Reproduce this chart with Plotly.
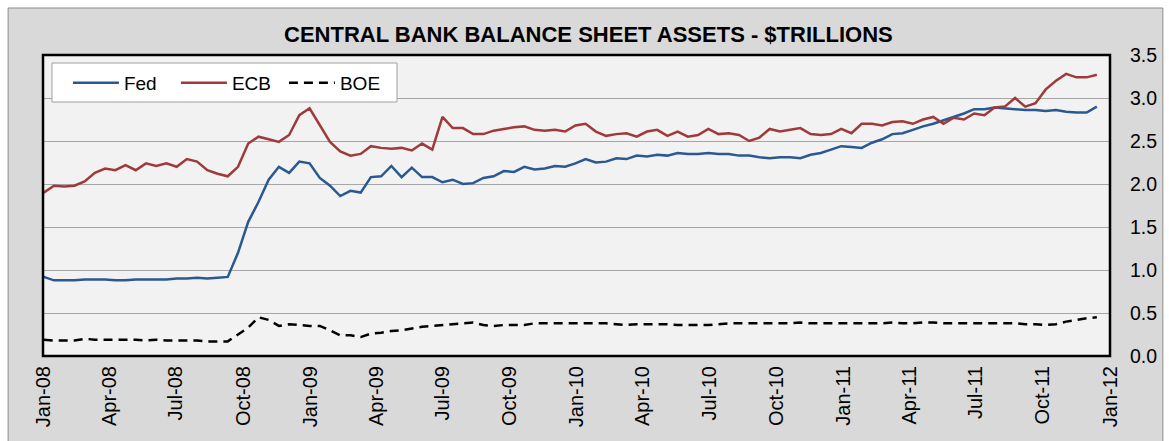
import pandas as pd
import plotly.graph_objects as go

# biweekly observation dates (Jan 2008 - Dec 2011)
dates = pd.date_range("2008-01-02", periods=104, freq="14D")

fed = [
    0.92, 0.88, 0.88, 0.88, 0.89, 0.89, 0.89, 0.88, 0.88, 0.89,
    0.89, 0.89, 0.89, 0.90, 0.90, 0.91, 0.90, 0.91, 0.92, 1.20,
    1.56, 1.79, 2.05, 2.20, 2.13, 2.26, 2.24, 2.07, 1.98, 1.86,
    1.92, 1.90, 2.08, 2.09, 2.21, 2.08, 2.19, 2.08, 2.08, 2.02,
    2.05, 2.00, 2.01, 2.07, 2.09, 2.15, 2.14, 2.20, 2.17, 2.18,
    2.21, 2.20, 2.24, 2.29, 2.25, 2.26, 2.30, 2.29, 2.33, 2.32,
    2.34, 2.33, 2.36, 2.35, 2.35, 2.36, 2.35, 2.35, 2.33, 2.33,
    2.31, 2.30, 2.31, 2.31, 2.30, 2.34, 2.36, 2.40, 2.44, 2.43,
    2.42, 2.48, 2.52, 2.58, 2.59, 2.63, 2.67, 2.70, 2.74, 2.78,
    2.82, 2.87, 2.87, 2.89, 2.88, 2.87, 2.86, 2.86, 2.85, 2.86,
    2.84, 2.83, 2.83, 2.90,
]

ecb = [
    1.90, 1.98, 1.97, 1.98, 2.03, 2.13, 2.18, 2.16, 2.22, 2.16,
    2.24, 2.21, 2.24, 2.20, 2.29, 2.26, 2.16, 2.12, 2.09, 2.20,
    2.47, 2.55, 2.52, 2.49, 2.57, 2.80, 2.88, 2.69, 2.49, 2.38,
    2.33, 2.35, 2.44, 2.42, 2.41, 2.42, 2.39, 2.47, 2.40, 2.78,
    2.65, 2.65, 2.58, 2.58, 2.62, 2.64, 2.66, 2.67, 2.63, 2.62,
    2.63, 2.61, 2.68, 2.70, 2.61, 2.56, 2.58, 2.59, 2.55, 2.61,
    2.63, 2.56, 2.61, 2.55, 2.57, 2.64, 2.58, 2.59, 2.57, 2.50,
    2.54, 2.64, 2.61, 2.63, 2.65, 2.58, 2.57, 2.58, 2.64, 2.59,
    2.70, 2.70, 2.68, 2.72, 2.73, 2.70, 2.75, 2.78, 2.70, 2.77,
    2.75, 2.82, 2.80, 2.89, 2.90, 3.00, 2.90, 2.94, 3.10, 3.20,
    3.28, 3.24, 3.24, 3.27,
]

boe = [
    0.19, 0.18, 0.18, 0.18, 0.20, 0.19, 0.19, 0.19, 0.19, 0.19,
    0.18, 0.19, 0.18, 0.18, 0.18, 0.18, 0.17, 0.17, 0.17, 0.25,
    0.33, 0.45, 0.42, 0.35, 0.37, 0.36, 0.35, 0.35, 0.30, 0.24,
    0.24, 0.22, 0.26, 0.27, 0.29, 0.30, 0.32, 0.34, 0.35, 0.36,
    0.37, 0.38, 0.39, 0.36, 0.35, 0.36, 0.36, 0.36, 0.38, 0.38,
    0.38, 0.38, 0.38, 0.38, 0.38, 0.38, 0.37, 0.36, 0.37, 0.37,
    0.37, 0.37, 0.36, 0.36, 0.36, 0.36, 0.37, 0.38, 0.38, 0.38,
    0.38, 0.38, 0.38, 0.38, 0.39, 0.38, 0.38, 0.38, 0.38, 0.38,
    0.38, 0.38, 0.38, 0.39, 0.38, 0.38, 0.39, 0.39, 0.38, 0.38,
    0.38, 0.38, 0.38, 0.38, 0.38, 0.38, 0.37, 0.37, 0.36, 0.37,
    0.40, 0.42, 0.44, 0.45,
]

tick_dates = pd.date_range("2008-01-01", "2012-01-01", freq="QS")
tick_text = [d.strftime("%b-%y") for d in tick_dates]
y_ticks = [0.0, 0.5, 1.0, 1.5, 2.0, 2.5, 3.0, 3.5]

FONT = "Liberation Sans, Arial, sans-serif"

fig = go.Figure()
fig.add_trace(go.Scatter(x=dates, y=fed, name="Fed", mode="lines",
                         line=dict(color="#2a5892", width=2.5)))
fig.add_trace(go.Scatter(x=dates, y=ecb, name="ECB", mode="lines",
                         line=dict(color="#a03a3a", width=2.5)))
fig.add_trace(go.Scatter(x=dates, y=boe, name="BOE", mode="lines",
                         line=dict(color="#000000", width=2.5, dash="9px,6px")))

W, H = 1169, 441
L, R, T, B = 43, 1113, 55, 356
pw, ph = R - L, B - T


def px_x(p):
    return (p - L) / pw


def px_y(p):
    return (B - p) / ph


shapes = [
    # outer gray panel
    dict(type="rect", xref="paper", yref="paper", layer="below",
         x0=px_x(8), x1=px_x(1166), y0=px_y(445), y1=px_y(8),
         fillcolor="#d9d9d9", line=dict(color="#8c8c8c", width=1)),
    # plot area background
    dict(type="rect", xref="paper", yref="paper", layer="below",
         x0=0, x1=1, y0=0, y1=1, fillcolor="#f2f2f2", line=dict(width=0)),
    # legend frame
    dict(type="rect", xref="paper", yref="paper", layer="above",
         x0=px_x(52), x1=px_x(398), y0=px_y(102), y1=px_y(63),
         fillcolor="#ffffff", line=dict(color="#a0a0a0", width=1)),
    # plot area border
    dict(type="rect", xref="paper", yref="paper", layer="above",
         x0=0, x1=1, y0=0, y1=1, line=dict(color="#000000", width=2.5)),
]

fig.update_layout(
    width=W, height=H,
    margin=dict(l=L, r=W - R, t=T, b=H - B),
    paper_bgcolor="#ffffff",
    plot_bgcolor="rgba(0,0,0,0)",
    font=dict(family=FONT, color="#000000"),
    shapes=shapes,
    showlegend=True,
    legend=dict(orientation="h", x=px_x(68), y=px_y(83), xanchor="left", yanchor="middle",
                bgcolor="rgba(0,0,0,0)", borderwidth=0, itemwidth=46,
                entrywidth=47, entrywidthmode="pixels",
                font=dict(family=FONT, size=19, color="#000000")),
    annotations=[dict(text="<b>CENTRAL BANK BALANCE SHEET ASSETS - $TRILLIONS</b>",
                      xref="paper", yref="paper", x=px_x(590), y=px_y(34.5),
                      xanchor="center", yanchor="middle", showarrow=False,
                      font=dict(family=FONT, size=22, color="#000000"))],
    xaxis=dict(type="date", range=["2008-01-01", "2012-01-01"],
               tickvals=list(tick_dates), ticktext=tick_text, tickangle=-90,
               tickfont=dict(family=FONT, size=20), showgrid=False, zeroline=False,
               ticks="", showline=False, ticklabelstandoff=5),
    yaxis=dict(range=[0, 3.5], side="right", tickvals=y_ticks,
               ticktext=[f"{v:.1f}" for v in y_ticks],
               tickfont=dict(family=FONT, size=19.5), showgrid=True,
               gridcolor="#a6a6a6", gridwidth=1, zeroline=False, ticks="",
               ticklabelstandoff=19, showline=False),
)

fig.write_html("out.html")
